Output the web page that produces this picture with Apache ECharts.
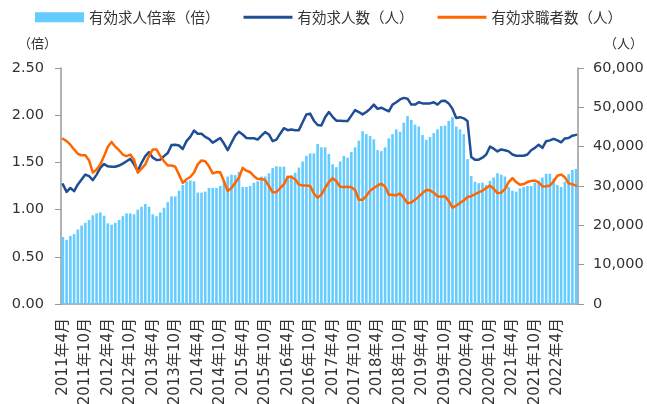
<!DOCTYPE html>
<html>
<head>
<meta charset="utf-8">
<script src="https://cdn.jsdelivr.net/npm/echarts@6/dist/echarts.min.js"></script>
<style>
  html, body { margin: 0; padding: 0; background: #fff; }
  #chart { width: 647px; height: 404px; }
</style>
</head>
<body>
<div id="chart"></div>
<script>
// 月次データ 2011年4月〜2022年9月
const startYear = 2011;
const startMonth = 4;
const monthCount = 138;

// 有効求人倍率（倍）
const ratio = [
  0.71, 0.68, 0.72, 0.74, 0.79, 0.83, 0.86, 0.89, 0.94, 0.96, 0.97, 0.935,
  0.855, 0.84, 0.86, 0.89, 0.93, 0.96, 0.96, 0.95, 1.00, 1.03, 1.06, 1.03,
  0.95, 0.93, 0.97, 1.02, 1.08, 1.14, 1.14, 1.20, 1.26, 1.30, 1.31, 1.30,
  1.18, 1.18, 1.19, 1.23, 1.23, 1.23, 1.25, 1.30, 1.35, 1.37, 1.365, 1.40,
  1.24, 1.24, 1.25, 1.285, 1.30, 1.35, 1.35, 1.385, 1.44, 1.46, 1.455, 1.455,
  1.36, 1.365, 1.39, 1.445, 1.51, 1.57, 1.595, 1.595, 1.695, 1.66, 1.66, 1.59,
  1.48, 1.45, 1.51, 1.57, 1.55, 1.61, 1.66, 1.73, 1.83, 1.80, 1.78, 1.745,
  1.63, 1.62, 1.66, 1.755, 1.80, 1.85, 1.825, 1.92, 1.99, 1.95, 1.90, 1.88,
  1.79, 1.74, 1.77, 1.81, 1.85, 1.885, 1.89, 1.94, 1.98, 1.88, 1.85, 1.80,
  1.535, 1.355, 1.295, 1.28, 1.285, 1.26, 1.305, 1.34, 1.385, 1.37, 1.35, 1.24,
  1.20, 1.19, 1.225, 1.24, 1.25, 1.25, 1.285, 1.305, 1.34, 1.38, 1.38, 1.33,
  1.26, 1.24, 1.295, 1.375, 1.42, 1.43
];

// 有効求人数（人）
const openings = [
  30400, 28500, 29500, 28700, 30400, 31650, 32900, 32500, 31500, 32900, 34600, 35600,
  35000, 34900, 34900, 35200, 35700, 36300, 36900, 35500, 33800, 35900, 37600, 38600,
  37200, 36600, 36700, 37600, 38400, 40400, 40500, 40300, 39400, 41400, 42500, 44100,
  43300, 43300, 42500, 42000, 41000, 41600, 42200, 40800, 39100, 41000, 42800, 43800,
  43100, 42200, 42150, 42150, 41800, 42800, 43700, 43100, 41400, 41800, 43300, 44700,
  44200, 44350, 44200, 44200, 46200, 48200, 48400, 46600, 45500, 45400, 47500, 48800,
  47600, 46600, 46600, 46500, 46500, 47900, 49300, 48800, 48200, 48800, 49600, 50700,
  49600, 49900, 49400, 49000, 50700, 51300, 52000, 52400, 52200, 50700, 50700, 51300,
  51000, 51000, 51000, 51300, 50700, 51600, 51700, 51000, 49600, 47300, 47500, 47200,
  46500, 37400, 36700, 36700, 37200, 38000, 40000, 39500, 38800, 39300, 39100, 38800,
  38000, 37700, 37700, 37700, 38000, 39100, 39700, 40500, 39700, 41400, 41600, 42000,
  41600, 41100, 42100, 42200, 42800, 43000
];

// 有効求職者数（人）
const seekers = [
  42000, 41400, 40500, 39300, 38200, 37800, 37800, 36500, 33400, 34200, 35500, 37600,
  40000, 41200, 40000, 39100, 38000, 37600, 38000, 36700, 33400, 34400, 35500, 37600,
  39300, 39300, 37600, 36300, 35200, 35200, 34900, 32900, 30800, 31700, 32300, 33400,
  35500, 36500, 36300, 35000, 33200, 33500, 33500, 31200, 28700, 29500, 30800, 32100,
  34600, 33900, 33500, 32500, 31800, 31800, 31500, 30000, 28400, 28400, 29500, 30400,
  32300, 32300, 31700, 30400, 30100, 30100, 30000, 28100, 27000, 27800, 29500, 31000,
  32000, 31200, 29800, 29750, 29780, 29700, 29000, 26500, 26500, 27500, 28800, 29500,
  30100, 30600, 29900, 27800, 27800, 27600, 28100, 27000, 25600, 25800, 26500, 27300,
  28200, 29000, 28900, 28300, 27400, 27250, 27400, 26200, 24500, 25000, 25700, 26300,
  27200, 27400, 27900, 28400, 28800, 29500, 30100, 29300, 28200, 28300, 29200, 31000,
  32000, 31000, 30300, 30500, 31000, 31300, 31400, 30900, 29900, 29950, 30100, 31200,
  32600, 32900, 32200, 30700, 30400, 30100
];

const seriesNames = ['有効求人倍率（倍）', '有効求人数（人）', '有効求職者数（人）'];

// カテゴリ（年月ラベル）
const months = [];
for (let i = 0; i < monthCount; i++) {
  const m = startMonth - 1 + i;
  months.push((startYear + Math.floor(m / 12)) + '年' + ((m % 12) + 1) + '月');
}

const chart = echarts.init(document.getElementById('chart'));
const font = "'DejaVu Sans', 'Noto Sans CJK JP', sans-serif";
const cjk = "'Noto Sans CJK JP', sans-serif";
const axisGrey = '#999999';
// 凡例の線アイコン（細い横棒）
const lineIcon = 'path://M0,0L49,0L49,3L0,3Z';

chart.setOption({
  animation: false,
  textStyle: { fontFamily: font },
  legend: {
    left: 30,
    top: 5,
    itemWidth: 49,
    itemHeight: 10,
    itemGap: 24,
    textStyle: { fontSize: 14.5, color: '#333', fontFamily: cjk },
    data: [
      { name: seriesNames[0], icon: 'rect' },
      { name: seriesNames[1], icon: lineIcon },
      { name: seriesNames[2], icon: lineIcon }
    ]
  },
  grid: { left: 61, right: 69, top: 68, bottom: 100, outerBoundsMode: 'none' },
  xAxis: {
    type: 'category',
    data: months,
    axisLine: { lineStyle: { color: axisGrey, width: 1.5 } },
    axisTick: { interval: 0, length: 4, lineStyle: { color: axisGrey } },
    axisLabel: {
      interval: 5,
      rotate: 90,
      fontSize: 15,
      color: '#333',
      margin: 14
    }
  },
  yAxis: [
    {
      type: 'value',
      min: 0,
      max: 2.5,
      interval: 0.5,
      name: '（倍）',
      nameGap: 18,
      nameTextStyle: { fontSize: 13, color: '#333', align: 'right', padding: [0, 4, 0, 0], fontFamily: cjk },
      splitLine: { show: false },
      axisLine: { show: true, lineStyle: { color: axisGrey, width: 1.5 } },
      axisTick: { show: true, length: 6, lineStyle: { color: axisGrey } },
      axisLabel: { fontSize: 14.5, color: '#333', margin: 17, formatter: v => v.toFixed(2) }
    },
    {
      type: 'value',
      min: 0,
      max: 60000,
      interval: 10000,
      name: '（人）',
      nameGap: 18,
      nameTextStyle: { fontSize: 13, color: '#333', align: 'left', padding: [0, 0, 0, 26], fontFamily: cjk },
      splitLine: { show: false },
      axisLine: { show: true, lineStyle: { color: axisGrey, width: 1.5 } },
      axisTick: { show: true, length: 6, lineStyle: { color: axisGrey } },
      axisLabel: { fontSize: 14.5, color: '#333', margin: 15,
        formatter: v => v.toLocaleString('en-US') }
    }
  ],
  series: [
    {
      name: seriesNames[0],
      type: 'bar',
      data: ratio,
      barCategoryGap: '30%',
      itemStyle: { color: '#66ccff' }
    },
    {
      name: seriesNames[1],
      type: 'line',
      yAxisIndex: 1,
      data: openings,
      symbol: 'none',
      lineStyle: { color: '#1f4e96', width: 2.5, join: 'round', cap: 'round' },
      itemStyle: { color: '#1f4e96' }
    },
    {
      name: seriesNames[2],
      type: 'line',
      yAxisIndex: 1,
      data: seekers,
      symbol: 'none',
      lineStyle: { color: '#ff6600', width: 2.5, join: 'round', cap: 'round' },
      itemStyle: { color: '#ff6600' }
    }
  ]
});
</script>
</body>
</html>
